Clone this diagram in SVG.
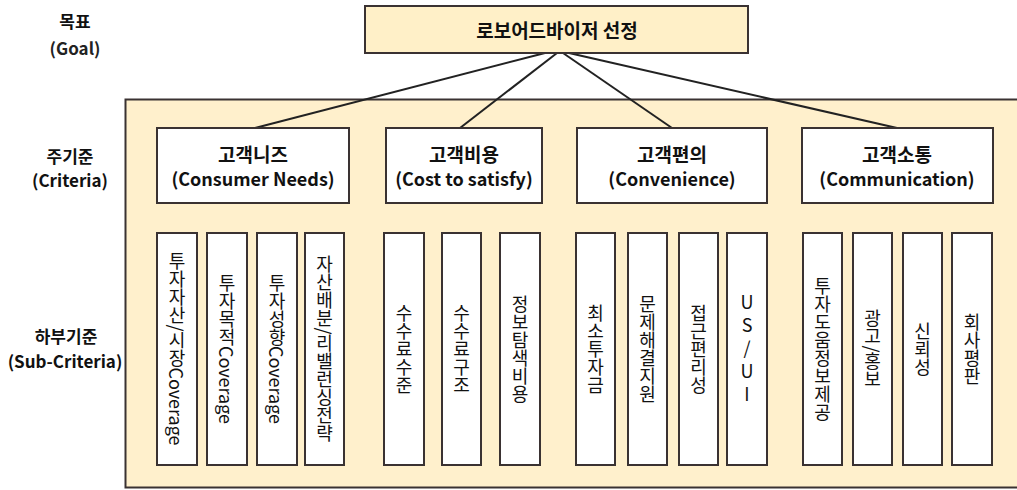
<svg xmlns="http://www.w3.org/2000/svg" width="1017" height="490" viewBox="0 0 1017 490">
<style>
.lbl{font-family:"Noto Sans CJK KR","Noto Sans",sans-serif;font-size:17px;font-weight:bold;fill:#111;text-anchor:middle}
.lbl2{font-family:"Noto Sans CJK KR","Noto Sans",sans-serif;font-size:17px;font-weight:bold;fill:#222;text-anchor:middle}
.panel{fill:#FFF0CC;stroke:#3a3232;stroke-width:2}
.goal{fill:#FFF0C8;stroke:#3a3232;stroke-width:2}
.crit{fill:#fff;stroke:#3a3232;stroke-width:2}
.ct{font-family:"Noto Sans CJK KR","Noto Sans",sans-serif;font-size:19px;font-weight:bold;fill:#111;text-anchor:middle}
.ce{font-family:"Noto Sans CJK KR","Noto Sans",sans-serif;font-size:18px;font-weight:bold;fill:#111;text-anchor:middle}
.sub{fill:#fff;stroke:#3a3232;stroke-width:2}
.vt{font-family:"Noto Sans CJK KR","Noto Sans",sans-serif;font-size:18px;fill:#111;text-anchor:middle;writing-mode:vertical-rl}
.up{text-orientation:upright;letter-spacing:5px}
.conn{stroke:#222;stroke-width:2;fill:none}
</style>
<rect class="panel" x="125.5" y="99.5" width="1000" height="388"/>
<g id="labels">
<text class="lbl" x="75" y="28">목표</text>
<text class="lbl2" x="75" y="55">(Goal)</text>
<text class="lbl" x="70" y="163">주기준</text>
<text class="lbl" x="70" y="187">(Criteria)</text>
<text class="lbl" x="66" y="343">하부기준</text>
<text class="lbl" x="65" y="368">(Sub-Criteria)</text>
</g>
<g id="connectors">
<line class="conn" x1="545" y1="53" x2="255" y2="128"/>
<line class="conn" x1="557" y1="53" x2="460" y2="128"/>
<line class="conn" x1="563" y1="53" x2="672" y2="128"/>
<line class="conn" x1="569" y1="53" x2="897" y2="128"/>
</g>
<g id="goal">
<rect class="goal" x="365" y="6" width="383" height="47"/>
<text class="ct" x="557" y="38">로보어드바이저 선정</text>
</g>
<g id="c1">
<rect class="crit" x="157" y="128" width="192" height="75"/>
<text class="ct" x="253" y="162">고객니즈</text>
<text class="ce" x="253" y="186">(Consumer Needs)</text>
</g>
<g id="c2">
<rect class="crit" x="386" y="128" width="156" height="75"/>
<text class="ct" x="464" y="162">고객비용</text>
<text class="ce" x="464" y="186">(Cost to satisfy)</text>
</g>
<g id="c3">
<rect class="crit" x="577" y="128" width="190" height="75"/>
<text class="ct" x="672" y="162">고객편의</text>
<text class="ce" x="672" y="186">(Convenience)</text>
</g>
<g id="c4">
<rect class="crit" x="802" y="128" width="191" height="75"/>
<text class="ct" x="897" y="162">고객소통</text>
<text class="ce" x="897" y="186">(Communication)</text>
</g>
<g id="s1"><rect class="sub" x="157" y="233" width="40" height="232"/><text class="vt" x="177" y="349">투자자산/시장Coverage</text></g>
<g id="s2"><rect class="sub" x="207" y="233" width="40" height="232"/><text class="vt" x="227" y="349">투자목적Coverage</text></g>
<g id="s3"><rect class="sub" x="257" y="233" width="40" height="232"/><text class="vt" x="277" y="349">투자성향Coverage</text></g>
<g id="s4"><rect class="sub" x="305" y="233" width="39" height="232"/><text class="vt" x="324.5" y="349">자산배분/리밸런싱전략</text></g>
<g id="s5"><rect class="sub" x="384" y="233" width="40" height="232"/><text class="vt" x="404" y="349">수수료수준</text></g>
<g id="s6"><rect class="sub" x="442" y="233" width="39" height="232"/><text class="vt" x="461.5" y="349">수수료구조</text></g>
<g id="s7"><rect class="sub" x="500" y="233" width="40" height="232"/><text class="vt" x="520" y="349">정보탐색비용</text></g>
<g id="s8"><rect class="sub" x="576" y="233" width="39" height="232"/><text class="vt" x="595.5" y="349">최소투자금</text></g>
<g id="s9"><rect class="sub" x="628" y="233" width="39" height="232"/><text class="vt" x="647.5" y="349">문제해결지원</text></g>
<g id="s10"><rect class="sub" x="679" y="233" width="39" height="232"/><text class="vt" x="698.5" y="349">접근편리성</text></g>
<g id="s11"><rect class="sub" x="727" y="233" width="40" height="232"/><text class="vt up" x="747" y="351">US/UI</text></g>
<g id="s12"><rect class="sub" x="803" y="233" width="39" height="232"/><text class="vt" x="822.5" y="349">투자도움정보제공</text></g>
<g id="s13"><rect class="sub" x="853" y="233" width="39" height="232"/><text class="vt" x="872.5" y="349">광고/홍보</text></g>
<g id="s14"><rect class="sub" x="903" y="233" width="39" height="232"/><text class="vt" x="922.5" y="349">신뢰성</text></g>
<g id="s15"><rect class="sub" x="952" y="233" width="40" height="232"/><text class="vt" x="972" y="349">회사평판</text></g>
</svg>
